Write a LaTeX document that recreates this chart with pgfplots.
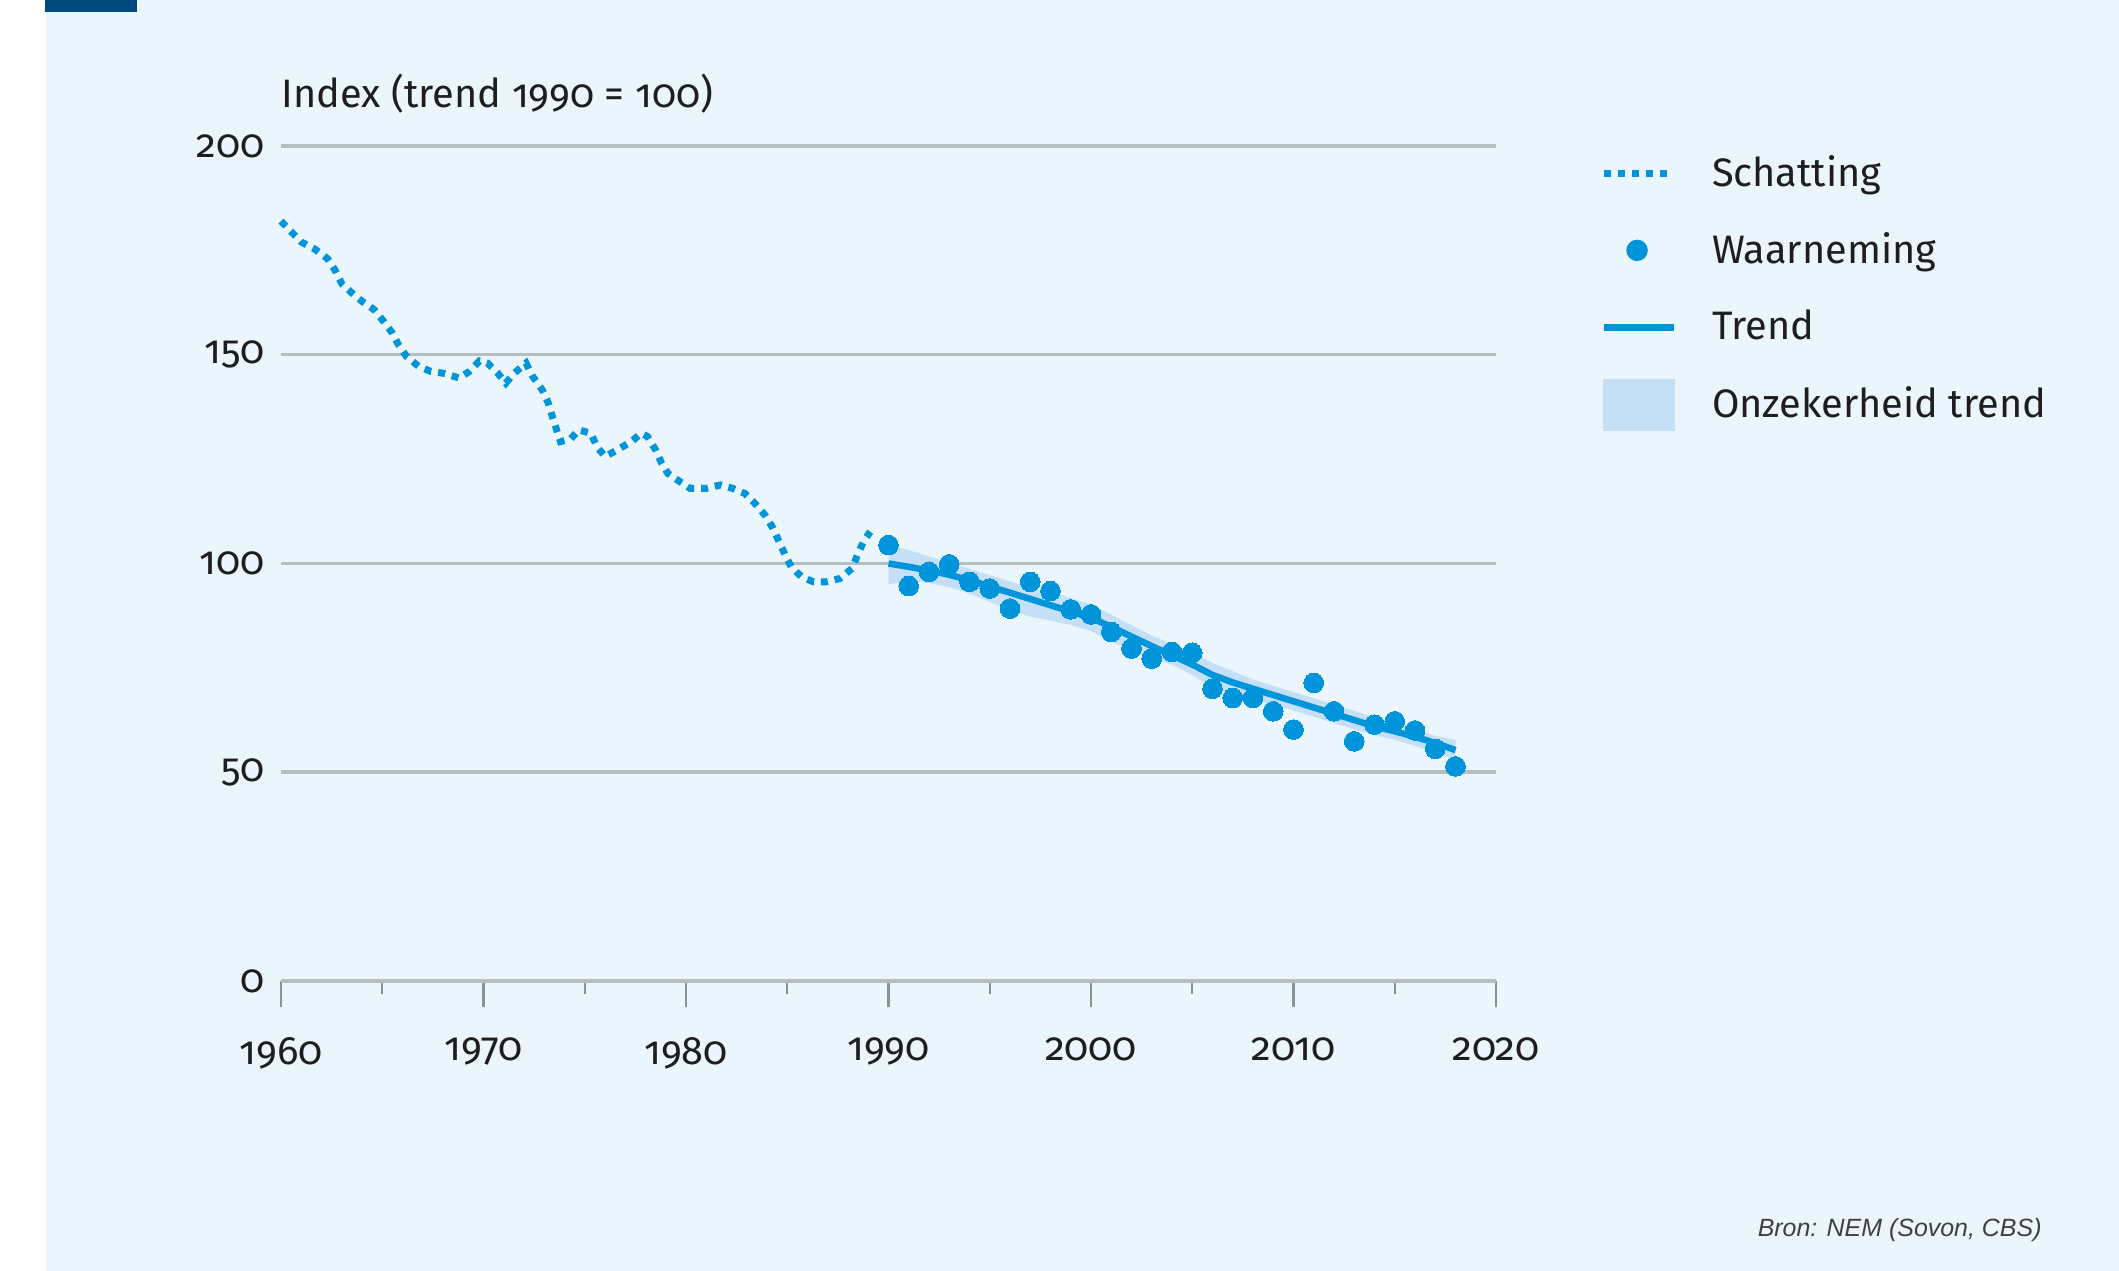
\documentclass[border=0pt]{standalone}
\usepackage{pgfplots}
\pgfplotsset{compat=1.18}
\usepackage{fontspec}
\setmainfont{Fira Sans}[Numbers=OldStyle]
\newfontfamily\srcfont{Liberation Sans}
\definecolor{bg}{HTML}{EAF5FC}
\definecolor{darkbar}{HTML}{01497A}
\definecolor{gridgray}{HTML}{B7BEC2}
\definecolor{tickgray}{HTML}{8A9296}
\definecolor{nblue}{HTML}{0095DA}
\definecolor{band}{HTML}{C5E0F6}
\definecolor{txt}{HTML}{1E1E1E}
\pgfplotsset{
  legdots/.style={legend image code/.code={\path[draw=none,fill=none] (0cm,-0.25cm) rectangle (0.70cm,0.25cm);\draw[nblue, line width=0.07cm, line cap=butt, dash pattern=on 0.07cm off 0.07cm] (0cm,0cm) -- (0.66cm,0cm);}},
  legdot/.style={legend image code/.code={\path[draw=none,fill=none] (0cm,-0.25cm) rectangle (0.70cm,0.25cm);\fill[nblue] (0.33cm,0cm) circle (0.1cm);}},
  legline/.style={legend image code/.code={\path[draw=none,fill=none] (0cm,-0.25cm) rectangle (0.70cm,0.25cm);\draw[nblue, line width=0.07cm] (0cm,0cm) -- (0.70cm,0cm);}},
  legband/.style={legend image code/.code={\fill[band] (0cm,-0.25cm) rectangle (0.70cm,0.25cm);}},
}
\begin{document}
\begin{tikzpicture}
\path[use as bounding box] (0,0) rectangle (21.19,12.71);
\fill[white] (0,0) rectangle (21.19,12.71);
\fill[bg] (0.46,0) rectangle (21.19,12.71);
\fill[darkbar] (0.45,12.59) rectangle (1.37,12.71);
\begin{axis}[
  at={(2.81cm,2.90cm)}, anchor=south west,
  width=12.15cm, height=8.35cm, scale only axis,
  xmin=1960, xmax=2020, ymin=0, ymax=200,
  axis lines*=left,
  x axis line style={-, draw=gridgray, line width=1.4pt},
  y axis line style={draw=none},
  xtick={1960,1970,...,2020},
  minor xtick={1965,1975,...,2015},
  ytick={0,50,...,200},
  tick align=outside,
  major tick length=0.26cm, minor tick length=0.13cm,
  xtick style={draw=tickgray, line width=0.7pt},
  minor tick style={draw=tickgray, line width=0.7pt},
  ytick style={draw=none},
  ymajorgrids, grid style={gridgray, line width=1pt},
  /pgf/number format/1000 sep={},
  /pgf/number format/assume math mode=true,
  tick label style={font=\fontsize{11.3}{13}\selectfont, text=txt},
  xticklabel style={anchor=north, yshift=-0.18cm},
  yticklabel style={anchor=east, xshift=0.22cm},
  ylabel={Index (trend 1990 = 100)},
  every axis y label/.style={at={(axis description cs:0,1)}, anchor=base west, inner sep=0pt, yshift=0.38cm, font=\fontsize{11.3}{13}\selectfont, text=txt},
  legend style={at={(axis description cs:1.0855,0.998)}, anchor=north west, draw=none, fill=none,
    font=\fontsize{11.3}{13}\selectfont, text=txt, row sep=0.27cm, inner sep=0pt,
    nodes={inner sep=1pt},
    /tikz/every odd column/.append style={column sep=0.31cm}},
  legend cell align=left,
  clip=false,
]
\addlegendimage{legdots}
\addlegendentry{Schatting}
\addlegendimage{legdot}
\addlegendentry{Waarneming}
\addlegendimage{legline}
\addlegendentry{Trend}
\addlegendimage{legband}
\addlegendentry{Onzekerheid trend}

% uncertainty band
\addplot[fill=band, draw=none, forget plot] coordinates {
(1990,104.6) (1991,103.2) (1992,101.7) (1993,100.2) (1994,98.7) (1995,97.2) (1996,95.7) (1997,94.2)
(1998,93.2) (1999,91.7) (2000,90.2) (2001,87.7) (2002,85.2) (2003,82.7) (2004,80.7) (2005,78.7)
(2006,76.2) (2007,74.2) (2008,72.2) (2009,70.7) (2010,69.2) (2011,67.7) (2012,66.2) (2013,64.7)
(2014,63.2) (2015,61.7) (2016,60.2) (2017,58.7) (2018,57.7)
(2018,52.8) (2017,54.8) (2016,56.3) (2015,57.8) (2014,58.8) (2013,60.3) (2012,61.8) (2011,63.3)
(2010,64.8) (2009,66.3) (2008,67.3) (2007,68.8) (2006,70.3) (2005,73.3) (2004,75.8) (2003,77.3)
(2002,79.3) (2001,81.3) (2000,83.8) (1999,85.3) (1998,86.3) (1997,87.3) (1996,88.8) (1995,90.8)
(1994,92.8) (1993,94.3) (1992,95.3) (1991,95.8) (1990,95)
} -- cycle;

% estimate (dotted)
\addplot[nblue, line width=0.07cm, line cap=butt, dash pattern=on 0.07cm off 0.07cm, forget plot] coordinates {
(1960,182) (1961,177) (1961.7,175.2) (1962.3,173) (1962.7,170) (1963,167) (1963.5,164.8)
(1964,162.8) (1964.6,160.8) (1965,158.4) (1965.5,155.2) (1965.8,152.4) (1966.2,149.6)
(1966.8,147.2) (1967.4,146) (1968.1,145.5) (1968.8,144.4) (1969.3,146) (1969.8,148.5)
(1970.2,148) (1970.7,145.6) (1971.1,143.2) (1971.5,145.5) (1972.1,148) (1972.4,145)
(1972.9,141.6) (1973.2,138.4) (1973.4,135.2) (1973.8,129.2) (1974.3,129.8) (1974.7,132)
(1975.3,131.2) (1975.6,128) (1976,125.6) (1976.6,127.2) (1977.3,129.2) (1977.8,131.2)
(1978.1,130.4) (1978.5,127.2) (1978.8,124) (1979.1,121.6) (1979.7,119.6) (1980.2,118)
(1981,118) (1981.7,118.8) (1982.3,118) (1982.9,116.8) (1983.4,114.4) (1983.9,111.6)
(1984.3,108.4) (1984.6,105.2) (1984.9,102) (1985.2,99.2) (1985.7,96.8) (1986.3,95.6)
(1986.9,95.6) (1987.6,96.4) (1988.2,98.8) (1988.5,102.4) (1988.8,105.6) (1989.1,107.6)
};

% trend
\addplot[nblue, line width=0.065cm, forget plot] coordinates {
(1990,100) (1991,99.2) (1992,98.3) (1993,97.3) (1994,96) (1995,94.5) (1996,93) (1997,91.5)
(1998,90) (1999,88.5) (2000,87) (2001,84.8) (2002,82.5) (2003,80.2) (2004,78) (2005,75.8)
(2006,73.3) (2007,71.5) (2008,70) (2009,68.5) (2010,67) (2011,65.5) (2012,64) (2013,62.5)
(2014,61) (2015,59.8) (2016,58.5) (2017,57) (2018,55.3)
};

% observations
\addplot[color=nblue, only marks, mark=*, mark size=2.8pt, mark options={draw=nblue, fill=nblue, line width=0pt}, forget plot] coordinates {
(1990,104.4) (1991,94.6) (1992,98) (1993,99.8) (1994,95.6) (1995,94) (1996,89.2) (1997,95.6)
(1998,93.4) (1999,89) (2000,87.8) (2001,83.6) (2002,79.6) (2003,77.2) (2004,78.8) (2005,78.6)
(2006,70) (2007,67.8) (2008,67.8) (2009,64.6) (2010,60.2) (2011,71.4) (2012,64.6) (2013,57.4)
(2014,61.4) (2015,62.2) (2016,60) (2017,55.6) (2018,51.4)
};
\end{axis}
\node[anchor=base east, font=\srcfont\itshape\fontsize{7.1}{9}\selectfont, text=txt!85] at (20.54,0.34) {Bron: NEM (Sovon, CBS)};
\end{tikzpicture}
\end{document}
